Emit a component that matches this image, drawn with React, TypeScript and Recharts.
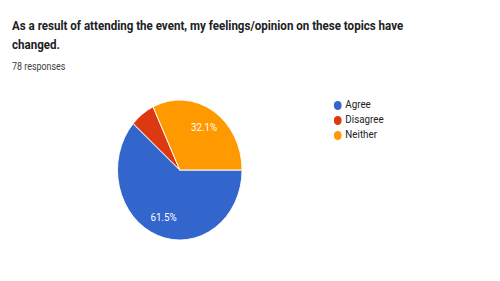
import React from "react";
import { PieChart, Pie, Cell, Legend } from "recharts";

const categories = ["Agree", "Disagree", "Neither"];
const counts = [48, 5, 25];
const colors = ["#3366cc", "#dc3912", "#ff9900"];
const titleLines = [
  "As a result of attending the event, my feelings/opinion on these topics have",
  "changed.",
];
const responsesText = "78 responses";

const data = categories.map((name, i) => ({ name, value: counts[i] }));
const total = counts.reduce((a, b) => a + b, 0);

const SX = 0.89;
const W = 500 / SX;
const RAD = Math.PI / 180;

const renderLabel = (props: any) => {
  const { cx, cy, midAngle, outerRadius, value } = props;
  const pct = (value / total) * 100;
  if (pct < 10) return null;
  const r = outerRadius * 0.73;
  const x = cx + r * Math.cos(-midAngle * RAD);
  const y = cy + r * Math.sin(-midAngle * RAD);
  return (
    <text
      x={x}
      y={y}
      fill="#ffffff"
      fontSize={11}
      fontFamily="Roboto, Arial, sans-serif"
      textAnchor="middle"
      dominantBaseline="central"
    >
      {pct.toFixed(1) + "%"}
    </text>
  );
};

export default function App() {
  return (
    <div
      style={{
        position: "absolute",
        left: 0,
        top: 0,
        width: W,
        height: 281,
        background: "#fff",
        transform: `scaleX(${SX})`,
        transformOrigin: "0 0",
        fontFamily: "Roboto, Arial, sans-serif",
        overflow: "hidden",
      }}
    >
      <div
        style={{
          position: "absolute",
          left: 13.5,
          top: 16,
          fontSize: 13,
          fontWeight: 700,
          lineHeight: "19px",
          color: "#202124",
          whiteSpace: "nowrap",
        }}
      >
        {titleLines.map((l, i) => (
          <div key={i}>{l}</div>
        ))}
      </div>
      <div
        style={{
          position: "absolute",
          left: 13.5,
          top: 61,
          fontSize: 10,
          color: "#3c4043",
        }}
      >
        {responsesText}
      </div>
      <div style={{ position: "absolute", left: 0, top: 0 }}>
        <PieChart
          width={W}
          height={281}
          margin={{ top: 0, right: 0, bottom: 0, left: 0 }}
        >
          <Pie
            data={data}
            dataKey="value"
            nameKey="name"
            cx={202}
            cy={170}
            outerRadius={70}
            startAngle={0}
            endAngle={-360}
            stroke="#ffffff"
            strokeWidth={1}
            label={renderLabel}
            labelLine={false}
            isAnimationActive={false}
          >
            {data.map((d, i) => (
              <Cell key={d.name} fill={colors[i]} />
            ))}
          </Pie>
          <Legend
            layout="vertical"
            align="right"
            verticalAlign="top"
            iconType="circle"
            iconSize={9}
            wrapperStyle={{
              top: 97,
              left: 375,
              width: 120,
              fontSize: 11,
              lineHeight: "15px",
            }}
            formatter={(v: any) => (
              <span style={{ color: "#222222" }}>{v}</span>
            )}
          />
        </PieChart>
      </div>
    </div>
  );
}
